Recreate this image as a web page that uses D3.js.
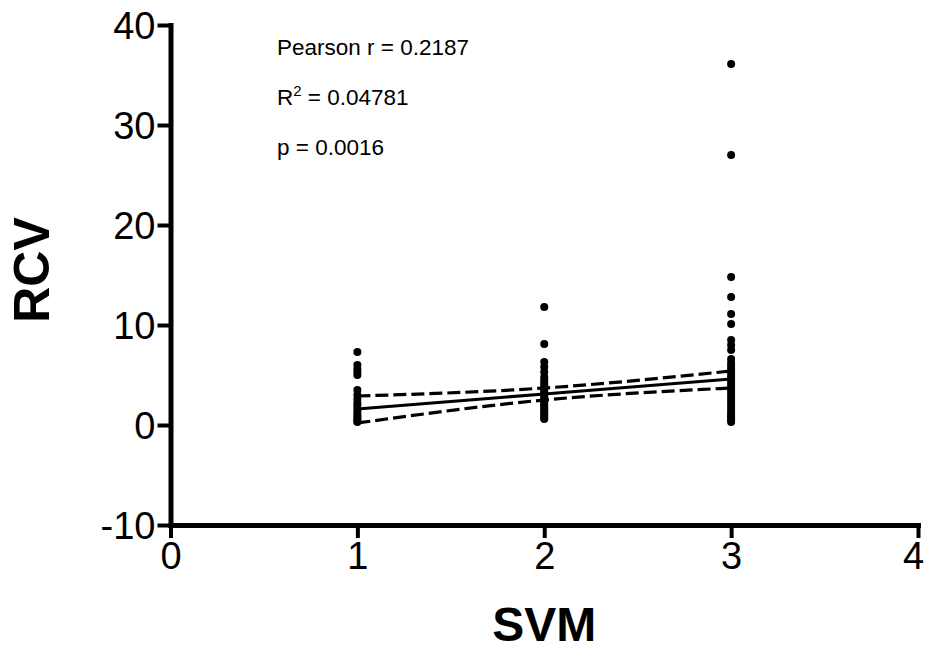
<!DOCTYPE html>
<html>
<head>
<meta charset="utf-8">
<script src="https://cdn.jsdelivr.net/npm/d3@7/dist/d3.min.js"></script>
<style>
  html, body { margin: 0; padding: 0; background: #fff; }
  svg text { font-family: "Liberation Sans", Arial, sans-serif; fill: #000; }
</style>
</head>
<body>
<svg id="chart" width="925" height="651"></svg>
<script>
// ---- data ----
const xTicks = [0, 1, 2, 3, 4];
const yTicks = [-10, 0, 10, 20, 30, 40];
const xTitle = "SVM";
const yTitle = "RCV";

const svm1 = [7.3, 6.0, 5.6, 5.3, 5.0, 3.5, 3.0, 2.6, 2.2, 1.9, 1.6, 1.3, 1.0, 0.8, 0.6, 0.4, 0.3];
const svm2 = [11.8, 8.1, 6.3, 5.8, 5.3, 4.8, 4.5, 4.2, 4.0, 3.7, 3.5, 3.3, 3.1, 2.9, 2.7, 2.5, 2.3, 2.1, 1.9, 1.7, 1.5, 1.3, 1.1, 0.9, 0.7, 0.6];
const svm3 = [36.1, 27.0, 14.8, 12.8, 11.1, 10.1, 8.5, 8.0, 7.5, 6.6, 6.2, 5.9, 5.6, 5.3, 5.0, 4.7, 4.4, 4.1, 3.8, 3.5, 3.2, 2.9, 2.6, 2.3, 2.0, 1.7, 1.4, 1.1, 0.9, 0.7, 0.5, 0.3];

const fitX = [1, 2, 3];
const fitY = [1.6, 3.1, 4.6];
const upperY = [2.9, 3.7, 5.4];
const lowerY = [0.2, 2.5, 3.7];

const statsLines = [
  { pre: "Pearson r = 0.2187" },
  { pre: "R", sup: "2", post: " = 0.04781" },
  { pre: "p = 0.0016" }
];

// ---- drawing ----
const svg = d3.select("#chart");
const x = d3.scaleLinear().domain([0, 4]).range([170.5, 918]);
const y = d3.scaleLinear().domain([-10, 40]).range([525, 25]);

const points = [];
[[1, svm1], [2, svm2], [3, svm3]].forEach(([k, arr]) => arr.forEach(v => points.push({ x: k, y: v })));

const fmt = v => (v < 0 ? "-" : "") + Math.abs(v);

// axes
const yAxis = d3.axisLeft(y).tickValues(yTicks).tickFormat(fmt).tickSize(13).tickSizeOuter(0).tickPadding(2);
const xAxis = d3.axisBottom(x).tickValues(xTicks).tickFormat(fmt).tickSize(13).tickSizeOuter(0).tickPadding(4);

const gy = svg.append("g").attr("transform", `translate(${x(0)},0)`).call(yAxis);
const gx = svg.append("g").attr("transform", `translate(0,${y(-10)})`).call(xAxis);

[gx, gy].forEach(g => {
  g.select(".domain").attr("stroke", "#000").attr("stroke-width", 5).attr("stroke-linecap", "square");
  g.selectAll(".tick line").attr("stroke", "#000").attr("stroke-width", 4);
  g.selectAll(".tick text").attr("font-size", 38).attr("fill", "#000")
    .style("font-family", "'Liberation Sans', Arial, sans-serif");
});
gy.selectAll(".tick text").attr("dy", "0.36em");
gx.selectAll(".tick text").attr("dy", "0.72em");
// keep last x label inside the canvas
gx.selectAll(".tick text").filter(d => d === 4).attr("dx", -5);

// points
svg.append("g").selectAll("circle").data(points).join("circle")
  .attr("cx", d => x(d.x)).attr("cy", d => y(d.y)).attr("r", 4).attr("fill", "#000");

// fit and confidence bands
const line = d3.line().x((d, i) => x(fitX[i])).y(d => y(d)).curve(d3.curveNatural);
svg.append("path").attr("d", line(fitY)).attr("fill", "none").attr("stroke", "#000").attr("stroke-width", 3.2);
[upperY, lowerY].forEach(arr => {
  svg.append("path").attr("d", line(arr)).attr("fill", "none").attr("stroke", "#000")
    .attr("stroke-width", 3.2).attr("stroke-dasharray", "13,5");
});

// titles
svg.append("text").attr("x", x(2)).attr("y", 641).attr("text-anchor", "middle")
  .attr("font-size", 48).attr("font-weight", "bold").text(xTitle);
svg.append("text").attr("transform", `translate(49,270) rotate(-90)`).attr("text-anchor", "middle")
  .attr("font-size", 50).attr("font-weight", "bold").text(yTitle);

// stats
const st = svg.append("g");
statsLines.forEach((s, i) => {
  const t = st.append("text").attr("x", 277).attr("y", 55 + i * 50).attr("font-size", 22.5);
  t.append("tspan").text(s.pre);
  if (s.sup) {
    t.append("tspan").attr("font-size", 15).attr("dy", -9).text(s.sup);
    t.append("tspan").attr("dy", 9).text(s.post);
  }
});
</script>
</body>
</html>
